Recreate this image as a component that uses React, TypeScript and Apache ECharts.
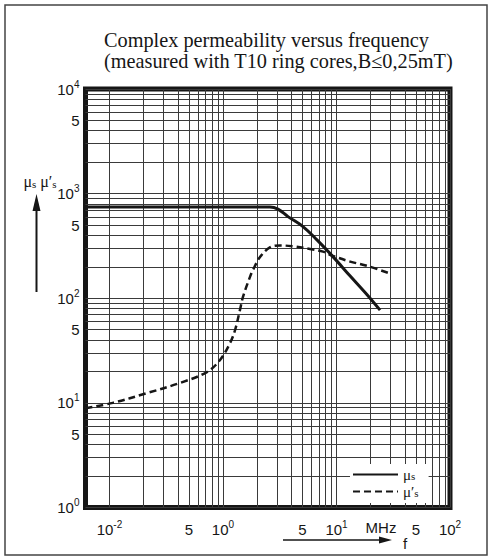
import React, { useEffect, useRef } from "react";
import * as echarts from "echarts";

// ---------- data ----------
// real part (solid line)
const freqReal = [0.0615, 2.59, 3.05, 3.74, 5.07, 6.73, 9.3, 13.2, 18.6, 24.2];
const muReal = [746, 746, 712, 603, 484, 361, 250, 163, 108, 77];
// imaginary part (dashed line)
const freqImag = [0.0615, 0.107, 0.214, 0.418, 0.722, 0.942, 1.15, 1.28, 1.41, 1.5, 1.73, 1.84, 2.12, 2.59, 3.18, 4.14, 5.84, 7.6, 9.3, 13.2, 18.6, 28.4];
const muImag = [8.9, 10, 12.4, 15.5, 19.7, 25.7, 37, 50, 77, 103, 160, 187, 248, 306, 320, 313, 296, 279, 254, 224, 204, 175];

const seriesNames = ["μs", "μ′s"];

// axis range
const xMin = 0.0615;
const xMax = 100;
const yMin = 1;
const yMax = 10000;

// tick labels (as printed on the reference)
const xTickValues = [0.1, 0.5, 1, 5, 10, 50, 100];
const xTickLabels = ["10{sup|-2}", "5", "10{sup|0}", "5", "10{sup|1}", "5", "10{sup|2}"];
const yTickValues = [1, 5, 10, 50, 100, 500, 1000, 5000, 10000];
const yTickLabels = ["10{sup|0}", "5", "10{sup|1}", "5", "10{sup|2}", "5", "10{sup|3}", "5", "10{sup|4}"];

// grid lines: 1..9 in every decade
const gridMantissas = [1, 2, 3, 4, 5, 6, 7, 8, 9];
const xDecades = [0.1, 1, 10];
const yDecades = [1, 10, 100, 1000];

const xGrid = xDecades
  .flatMap((d) => gridMantissas.map((m) => +(m * d).toPrecision(6)))
  .concat([100]);
const yGrid = yDecades
  .flatMap((d) => gridMantissas.map((m) => +(m * d).toPrecision(6)))
  .concat([10000]);

const pickLabel = (vals: number[], labels: string[]) => (v: number) => {
  const i = vals.findIndex((t) => Math.abs(t - v) / t < 1e-4);
  return i >= 0 ? labels[i] : "";
};

const INK = "#161616";
const GRIDC = "#3a3a3a";

export default function App() {
  const ref = useRef<HTMLDivElement>(null);

  useEffect(() => {
    if (!ref.current) return;
    const chart = echarts.init(ref.current, undefined, { renderer: "svg" });

    const labelRich = {
      sup: {
        fontFamily: "Liberation Sans",
        fontSize: 10,
        lineHeight: 10,
        verticalAlign: "top" as const,
        color: INK,
      },
    };

    const option: any = {
      animation: false,
      backgroundColor: "#ffffff",
      title: {
        text:
          "Complex permeability versus frequency\n(measured with T10 ring cores,B≤0,25mT)",
        left: 104,
        top: 29,
        padding: 0,
        textStyle: {
          fontFamily: "Liberation Serif",
          fontSize: 20.3,
          fontWeight: "normal",
          color: INK,
          lineHeight: 21,
        },
      },
      grid: {
        left: 85.5,
        top: 89,
        right: 42,
        bottom: 49.5,
        show: true,
        borderWidth: 5,
        borderColor: INK,
        backgroundColor: "transparent",
        containLabel: false,
      },
      xAxis: {
        type: "log",
        logBase: 10,
        min: xMin,
        max: xMax,
        axisLine: { show: false },
        axisTick: { show: false, customValues: xGrid },
        splitLine: { show: true, lineStyle: { color: GRIDC, width: 1 } },
        minorTick: { show: false },
        minorSplitLine: { show: false },
        axisLabel: {
          customValues: xTickValues,
          formatter: pickLabel(xTickValues, xTickLabels),
          margin: 12,
          fontFamily: "Liberation Sans",
          fontSize: 15,
          lineHeight: 20,
          color: INK,
          rich: labelRich,
        },
      },
      yAxis: {
        type: "log",
        logBase: 10,
        min: yMin,
        max: yMax,
        axisLine: { show: false },
        axisTick: { show: false, customValues: yGrid },
        splitLine: { show: true, lineStyle: { color: GRIDC, width: 1 } },
        minorTick: { show: false },
        minorSplitLine: { show: false },
        axisLabel: {
          customValues: yTickValues,
          formatter: pickLabel(yTickValues, yTickLabels),
          margin: 6,
          fontFamily: "Liberation Sans",
          fontSize: 15,
          lineHeight: 20,
          color: INK,
          rich: labelRich,
        },
      },
      legend: {
        data: seriesNames.map((n) => ({ name: n })),
        orient: "vertical",
        left: 350,
        top: 464,
        itemWidth: 45,
        itemHeight: 10,
        itemGap: 2,
        padding: [3, 10, 4, 2],
        backgroundColor: "#ffffff",
        itemStyle: { opacity: 0, borderWidth: 0 },
        formatter: (name: string) => name.slice(0, -1) + "{sub|s}",
        textStyle: {
          fontFamily: "Liberation Serif",
          fontSize: 15,
          lineHeight: 14,
          color: INK,
          rich: {
            sub: {
              fontFamily: "Liberation Serif",
              fontSize: 11,
              lineHeight: 9,
              verticalAlign: "bottom",
              color: INK,
            },
          },
        },
      },
      series: [
        {
          name: seriesNames[0],
          type: "line",
          data: freqReal.map((f, i) => [f, muReal[i]]),
          symbol: "none",
          showSymbol: false,
          smooth: 0.35,
          lineStyle: { color: INK, width: 3 },
          itemStyle: { color: INK },
          z: 5,
        },
        {
          name: seriesNames[1],
          type: "line",
          data: freqImag.map((f, i) => [f, muImag[i]]),
          symbol: "none",
          showSymbol: false,
          smooth: 0.35,
          lineStyle: { color: INK, width: 2.5, type: [7, 4] },
          itemStyle: { color: INK },
          z: 5,
        },
      ],
      graphic: [
        {
          type: "rect",
          silent: true,
          shape: { x: 5, y: 5, width: 482, height: 550 },
          style: { fill: "none", stroke: "#444", lineWidth: 1.5 },
        },
        {
          type: "text",
          x: 40,
          y: 181,
          style: {
            text: "μ{sub|s} μ′{sub|s}",
            fontFamily: "Liberation Serif",
            fontSize: 16,
            lineHeight: 16,
            fill: INK,
            align: "center",
            verticalAlign: "middle",
            rich: {
              sub: {
                fontFamily: "Liberation Serif",
                fontSize: 11,
                lineHeight: 10,
                verticalAlign: "bottom",
                fill: INK,
              },
            },
          },
        },
        {
          type: "line",
          shape: { x1: 36.5, y1: 292, x2: 36.5, y2: 207 },
          style: { stroke: INK, lineWidth: 2 },
        },
        {
          type: "polygon",
          shape: { points: [[32.5, 211], [40.5, 211], [36.5, 194]] },
          style: { fill: INK },
        },
        {
          type: "text",
          x: 381,
          y: 527,
          style: {
            text: "MHz",
            fontFamily: "Liberation Sans",
            fontSize: 15,
            fill: INK,
            align: "center",
            verticalAlign: "middle",
          },
        },
        {
          type: "line",
          shape: { x1: 283, y1: 540, x2: 382, y2: 540 },
          style: { stroke: INK, lineWidth: 1.3 },
        },
        {
          type: "polygon",
          shape: { points: [[379, 536.5], [392, 540], [379, 543.5]] },
          style: { fill: INK },
        },
        {
          type: "text",
          x: 405,
          y: 543,
          style: {
            text: "f",
            fontFamily: "Liberation Sans",
            fontSize: 15,
            fill: INK,
            align: "center",
            verticalAlign: "middle",
          },
        },
      ],
    };

    chart.setOption(option);
    return () => chart.dispose();
  }, []);

  return (
    <div
      ref={ref}
      style={{ position: "fixed", left: 0, top: 0, width: 492, height: 557 }}
    />
  );
}
